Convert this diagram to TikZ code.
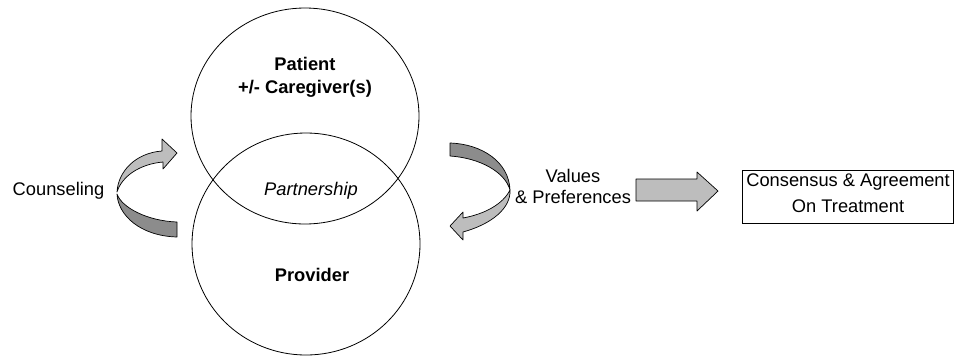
\documentclass[tikz,border=0pt]{standalone}
\usepackage{fontspec}
\setmainfont{Liberation Sans}
\usetikzlibrary{shapes.geometric}
\definecolor{ribbonlight}{gray}{0.74}
\definecolor{ribbondark}{gray}{0.55}
\definecolor{blockfill}{gray}{0.74}
\begin{document}
\begin{tikzpicture}[x=1pt,y=-1pt,
  lbl/.style={font=\fontsize{18.3}{21}\selectfont, inner sep=0pt},
  circ/.style={draw, ellipse, line width=0.8pt, inner sep=0pt},
  ribbon/.style={draw=black, line width=0.7pt, line join=round},
]
\useasboundingbox (0,0) rectangle (963,357);

% the two overlapping circles
\node[circ, minimum width=228pt, minimum height=216pt] (patientcirc) at (305,116) {};
\node[circ, minimum width=228pt, minimum height=222pt] (providercirc) at (306,244) {};

% circle labels
\node[lbl, font=\fontsize{18.3}{23}\selectfont\bfseries, align=center] (patient) at (305,77)
  {Patient\\+/- Caregiver(s)};
\node[lbl, font=\fontsize{18.3}{21}\selectfont\itshape, anchor=base] (partnership) at (311,195) {Partnership};
\node[lbl, font=\fontsize{18.3}{21}\selectfont\bfseries, anchor=base] (provider) at (312,281) {Provider};

% left side label
\node[lbl, anchor=base] (counseling) at (58.5,195) {Counseling};

% left turning ribbon arrow: front (light) half with head, back (dark) half
\filldraw[ribbon, fill=ribbonlight]
  (117,192) .. controls (118,172) and (135,153) .. (162,151)
  -- (162,139) -- (177,153) -- (163,169) -- (163,162)
  .. controls (140,164) and (122,176) .. (117,192) -- cycle;
\filldraw[ribbon, fill=ribbondark]
  (117,194) .. controls (118,215) and (140,236) .. (177,237)
  -- (177,222) .. controls (148,221) and (122,208) .. (117,194) -- cycle;

% right turning ribbon arrow: back (dark) upper half, front (light) lower half with head
\filldraw[ribbon, fill=ribbondark]
  (450,143) .. controls (482,144) and (509,162) .. (510,190)
  .. controls (505,172) and (480,158) .. (450,156) -- cycle;
\filldraw[ribbon, fill=ribbonlight]
  (510,190) .. controls (511,208) and (492,224) .. (463,232)
  -- (463,240) -- (450,226) -- (463,212) -- (463,218)
  .. controls (485,214) and (503,204) .. (510,190) -- cycle;

% values text
\node[lbl, align=center] (values) at (573,186) {Values\\\& Preferences};

% block arrow
\filldraw[ribbon, fill=blockfill]
  (636,179) -- (697,179) -- (697,172) -- (718,191) -- (697,211)
  -- (697,201) -- (636,201) -- cycle;

% outcome box
\node[draw, line width=0.8pt, minimum width=211pt, minimum height=53pt, inner sep=0pt]
  (consensus) at (847.5,196.5) {};
\node[lbl, font=\fontsize{18.3}{26}\selectfont, align=center] (consensustext) at (848,193.6)
  {Consensus \& Agreement\\On Treatment};
\end{tikzpicture}
\end{document}
